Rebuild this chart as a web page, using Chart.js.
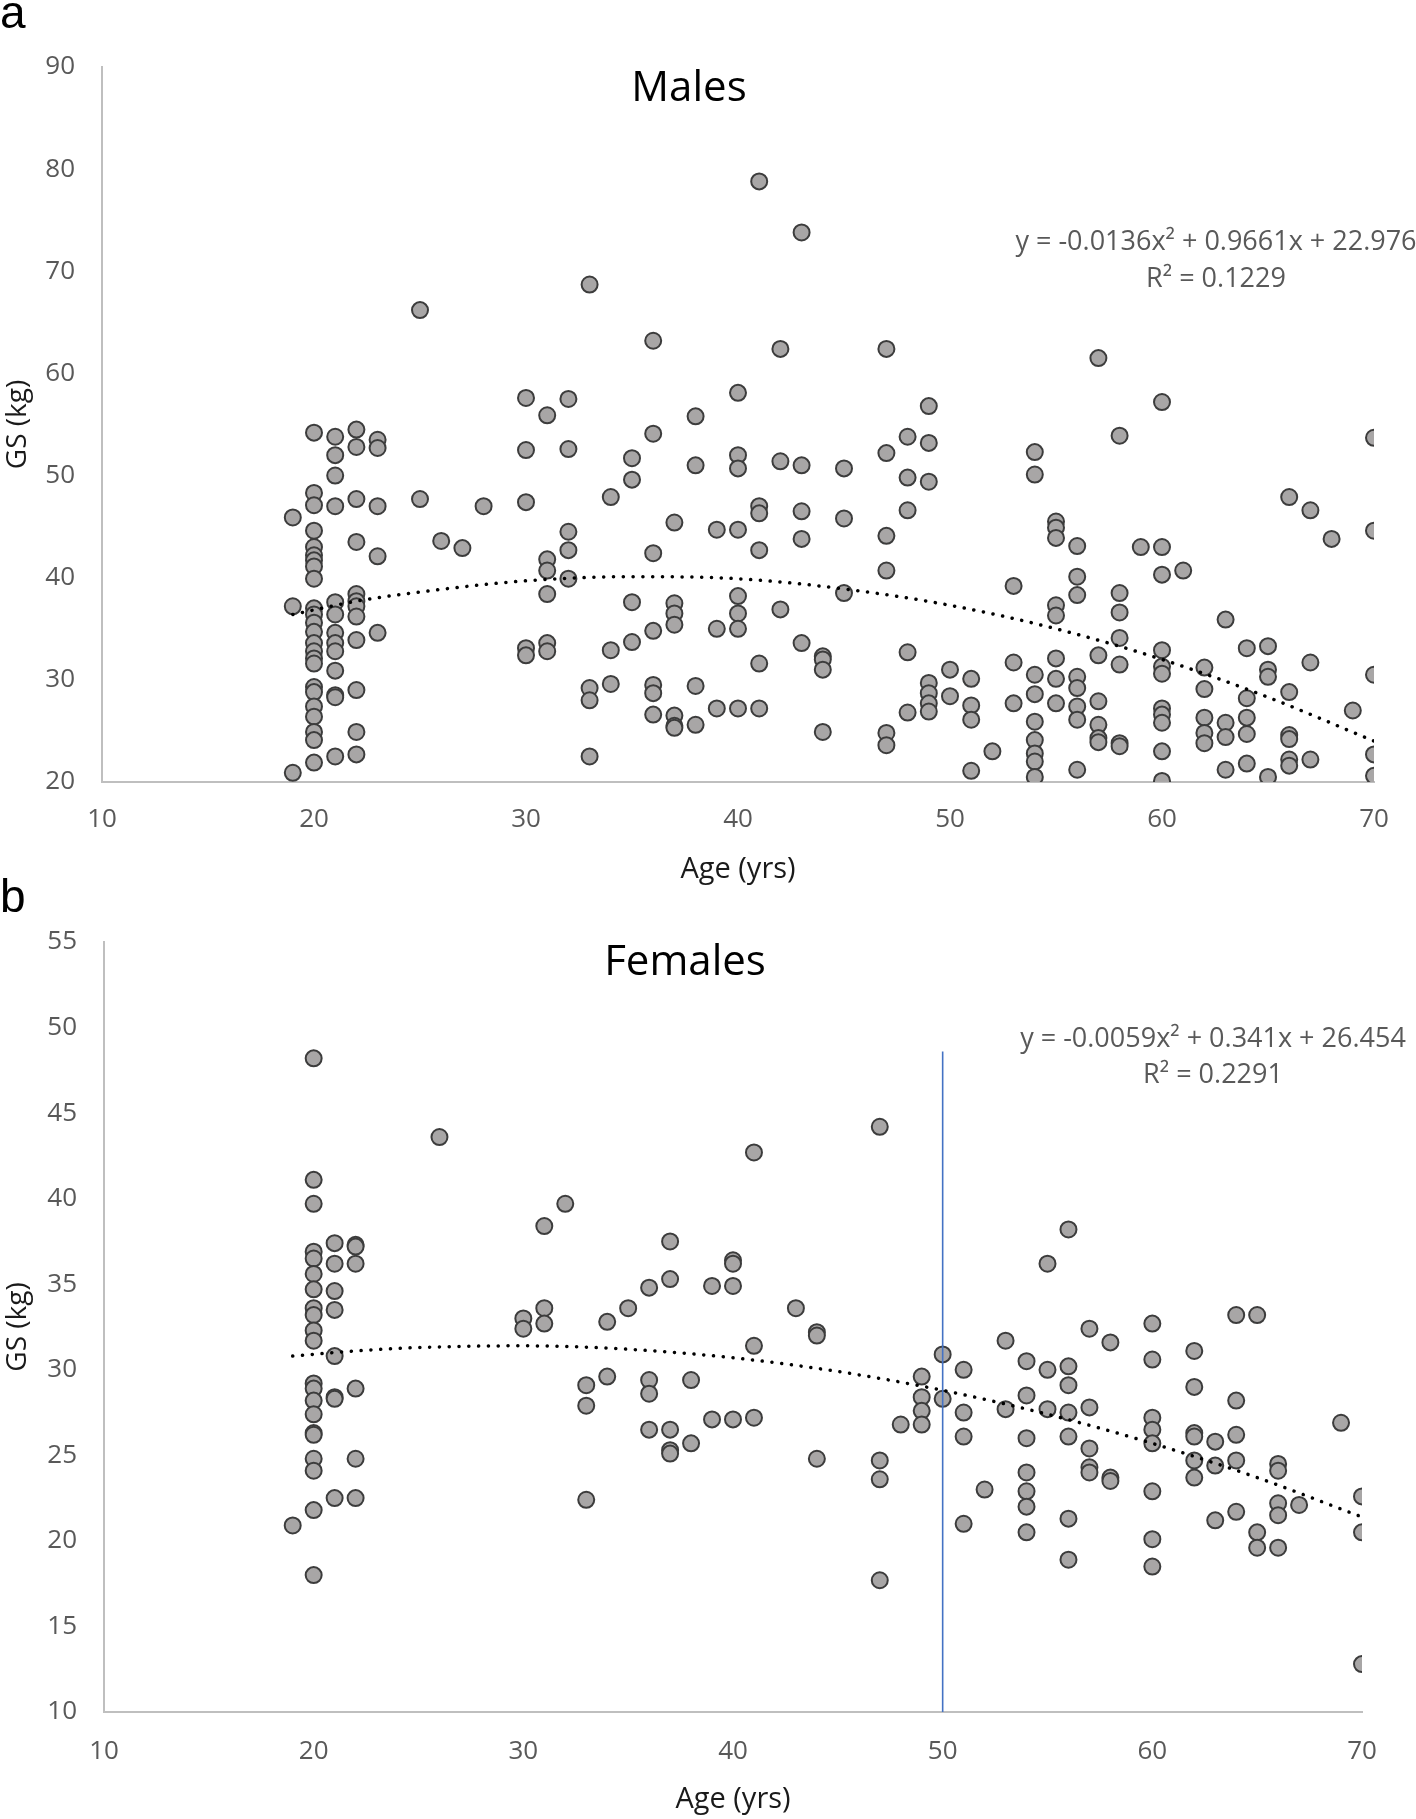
<!DOCTYPE html>
<html><head><meta charset="utf-8">
<script src="https://cdn.jsdelivr.net/npm/chart.js@4.4.1/dist/chart.umd.min.js"></script>
<style>
html,body{margin:0;padding:0;background:#fff;}
body{width:1416px;height:1819px;overflow:hidden;position:relative;}
canvas{position:absolute;left:0;}
.pl{position:absolute;left:0;font-family:"Liberation Sans",Arial,sans-serif;font-size:46px;line-height:46px;color:#000;}
</style></head><body>
<canvas id="c1" width="1416" height="890" style="top:0"></canvas>
<canvas id="c2" width="1416" height="939" style="top:880px"></canvas>
<div class="pl" style="top:-11px">a</div>
<div class="pl" style="top:873px">b</div>
<script>
// ---------- DATA ----------
const xTicks = [10, 20, 30, 40, 50, 60, 70];

const maleAges = [19,20,21,22,23,25,26,27,28,30,31,32,33,34,35,36,37,38,39,40,41,42,43,44,45,47,48,49,50,51,52,53,54,55,56,57,58,59,60,61,62,63,64,65,66,67,68,69,70];
const maleGS = [
 [45.9,37.2,20.9],
 [54.2,48.3,47.1,44.6,43.0,42.2,41.7,41.1,39.9,37.0,36.4,35.6,34.7,33.6,32.8,32.1,31.6,29.3,28.8,27.4,26.4,24.9,24.1,21.9],
 [53.8,52.0,50.0,47.0,37.6,36.4,34.6,33.6,32.8,30.9,28.5,28.3,22.5],
 [54.5,52.8,47.7,43.5,38.4,37.7,37.2,36.2,33.9,29.0,24.9,22.7],
 [53.5,52.7,47.0,42.1,34.6],
 [66.2,47.7],
 [43.6],
 [42.9],
 [47.0],
 [57.6,52.5,47.4,33.1,32.4],
 [55.9,41.8,40.7,38.4,33.6,32.8],
 [57.5,52.6,44.5,42.7,39.9],
 [68.7,29.2,28.0,22.5],
 [47.9,32.9,29.6],
 [51.7,49.6,37.6,33.7],
 [63.2,54.1,42.4,34.8,29.5,28.7,26.6],
 [45.4,37.5,36.5,35.4,26.5,25.5,25.3],
 [55.8,51.0,29.4,25.6],
 [44.7,35.0,27.2],
 [58.1,52.0,50.7,44.7,38.2,36.5,35.0,27.2],
 [78.8,47.0,46.3,42.7,31.6,27.2],
 [62.4,51.4,36.9],
 [73.8,51.0,46.5,43.8,33.6],
 [32.3,32.0,31.0,24.9],
 [50.7,45.8,38.5],
 [62.4,52.2,44.1,40.7,24.8,23.6],
 [53.8,49.8,46.6,32.7,26.8],
 [56.8,53.2,49.4,29.7,28.7,27.7,26.9],
 [31.0,28.4],
 [30.1,27.5,26.1,21.1],
 [23.0],
 [39.2,31.7,27.7],
 [52.3,50.1,30.5,28.6,25.9,24.1,22.8,22.0,20.5],
 [45.5,44.9,43.9,37.3,36.3,32.1,30.1,27.7],
 [43.1,40.1,38.3,30.3,29.2,27.4,26.1,21.2],
 [61.5,32.4,27.9,25.6,24.3,23.9],
 [53.9,38.5,36.6,34.1,31.5,23.8,23.5],
 [43.0],
 [57.2,43.0,40.3,32.9,31.3,30.6,27.2,26.6,25.8,23.0,20.1],
 [40.7],
 [31.2,29.1,26.3,24.8,23.8],
 [35.9,25.8,24.4,21.2],
 [33.1,28.2,26.3,24.7,21.8],
 [33.3,31.0,30.3,20.5],
 [47.9,28.8,24.6,24.2,22.2,21.6],
 [46.6,31.7,22.2],
 [43.8],
 [27.0],
 [53.7,44.6,30.5,22.7,20.6]
];

const femaleAges = [19,20,21,22,26,30,31,32,33,34,35,36,37,38,39,40,41,43,44,47,48,49,50,51,52,53,54,55,56,57,58,60,62,63,64,65,66,67,69,70];
const femaleGS = [
 [20.9],
 [48.2,41.1,39.7,36.9,36.5,35.6,34.7,33.6,33.2,32.3,31.7,29.2,28.9,28.2,27.4,26.3,26.2,24.8,24.1,21.8,18.0],
 [37.4,36.2,34.6,33.5,30.8,28.4,28.3,22.5],
 [37.3,37.2,36.2,28.9,24.8,22.5],
 [43.6],
 [33.0,32.4],
 [38.4,33.6,32.7],
 [39.7],
 [29.1,27.9,22.4],
 [32.8,29.6],
 [33.6],
 [34.8,29.4,28.6,26.5],
 [37.5,35.3,26.5,25.3,25.1],
 [29.4,25.7],
 [34.9,27.1],
 [36.4,36.2,34.9,27.1],
 [42.7,31.4,27.2],
 [33.6],
 [32.2,32.0,24.8],
 [44.2,24.7,23.6,17.7],
 [26.8],
 [29.6,28.4,27.6,26.8],
 [30.9,28.3],
 [30.0,27.5,26.1,21.0],
 [23.0],
 [31.7,27.7],
 [30.5,28.5,26.0,24.0,22.9,22.0,20.5],
 [36.2,30.0,27.7],
 [38.2,30.2,29.1,27.5,26.1,21.3,18.9],
 [32.4,27.8,25.4,24.3,24.0],
 [31.6,23.7,23.5],
 [32.7,30.6,27.2,26.5,25.7,22.9,20.1,18.5],
 [31.1,29.0,26.3,26.1,24.7,23.7],
 [25.8,24.4,21.2],
 [33.2,28.2,26.2,24.7,21.7],
 [33.2,20.5,19.6],
 [24.5,24.1,22.2,21.5,19.6],
 [22.1],
 [26.9],
 [22.6,20.5,12.8]
];

// dotted polynomial trend lines
const trendAges   = [19, 22, 25, 30, 35, 40, 45, 50, 55, 60, 65, 70];
const maleTrend   = [36.4, 37.7, 38.6, 39.7, 40.1, 39.9, 38.9, 37.3, 35.0, 32.0, 28.3, 24.0];
const femaleTrend = [30.8, 31.1, 31.3, 31.4, 31.2, 30.7, 29.9, 28.8, 27.4, 25.7, 23.7, 21.4];

// vertical blue marker line in panel b
const markerAge = [50, 50];
const markerGS  = [10, 48.6];

const maleEquation   = ['y = -0.0136x² + 0.9661x + 22.976', 'R² = 0.1229'];
const femaleEquation = ['y = -0.0059x² + 0.341x + 26.454', 'R² = 0.2291'];

// ---------- HELPERS ----------
function flatten(ages, vals) {
  const pts = [];
  ages.forEach((a, i) => vals[i].forEach(v => pts.push({x: a, y: v})));
  return pts;
}
function zip(xs, ys) { return xs.map((x, i) => ({x: x, y: ys[i]})); }

const FONT = '"Open Sans", "DejaVu Sans", sans-serif';

const textPlugin = {
  id: 'panelText',
  afterDatasetsDraw(chart, args, opts) {
    const ctx = chart.ctx;
    ctx.save();
    (opts.items || []).forEach(it => {
      ctx.font = it.font;
      ctx.fillStyle = it.color;
      ctx.textAlign = 'center';
      ctx.textBaseline = 'alphabetic';
      ctx.fillText(it.text, it.x, it.y);
    });
    ctx.restore();
  }
};

function makeChart(id, cfg) {
  return new Chart(document.getElementById(id), {
    type: 'scatter',
    data: {
      datasets: [
        {
          type: 'line',
          data: zip(markerAge, markerGS),
          borderColor: '#4472C4',
          borderWidth: 1.6,
          pointRadius: 0,
          hidden: !cfg.marker,
          order: 0
        },
        {
          type: 'line',
          data: zip(trendAges, cfg.trend),
          borderColor: '#000000',
          borderWidth: 3.5,
          borderDash: [0.1, 9.7],
          borderCapStyle: 'round',
          cubicInterpolationMode: 'monotone',
          pointRadius: 0,
          fill: false,
          order: 1
        },
        {
          data: flatten(cfg.ages, cfg.values),
          backgroundColor: '#A8A6A6',
          borderColor: '#3C3C3C',
          borderWidth: 2,
          pointRadius: 8,
          order: 2
        }
      ]
    },
    options: {
      responsive: false,
      animation: false,
      devicePixelRatio: 1,
      layout: {padding: {top: cfg.padTop, right: cfg.padRight, left: 0, bottom: 0}},
      plugins: {
        legend: {display: false},
        tooltip: {enabled: false},
        panelText: {items: cfg.texts}
      },
      scales: {
        x: {
          type: 'linear',
          min: 10, max: 70,
          afterBuildTicks: s => { s.ticks = xTicks.map(v => ({value: v})); },
          grid: {display: false, drawTicks: false},
          border: {display: true, color: '#BFBFBF', width: 2},
          ticks: {color: '#595959', font: {family: FONT, size: 26}, padding: cfg.xTickPad, maxRotation: 0},
          title: {display: true, text: 'Age (yrs)', color: '#1a1a1a', font: {family: FONT, size: 29}, padding: {top: 0, bottom: cfg.xTitlePad}},
          afterFit: s => { s.height = cfg.xHeight; }
        },
        y: {
          type: 'linear',
          min: cfg.yMin, max: cfg.yMax,
          ticks: {stepSize: cfg.yStep, color: '#595959', font: {family: FONT, size: 26}, padding: 27},
          grid: {display: false, drawTicks: false},
          border: {display: true, color: '#BFBFBF', width: 2},
          title: {display: true, text: 'GS (kg)', color: '#1a1a1a', font: {family: FONT, size: 28}, padding: {top: 1, bottom: 0}},
          afterFit: s => { s.width = cfg.yWidth; }
        }
      }
    },
    plugins: [textPlugin]
  });
}

makeChart('c1', {
  ages: maleAges, values: maleGS, trend: maleTrend, marker: false,
  yMin: 20, yMax: 90, yStep: 10,
  padTop: 67, padRight: 42, xHeight: 108, yWidth: 102, xTickPad: 22, xTitlePad: 3,
  texts: [
    {text: 'Males', x: 689, y: 101, font: '42px ' + FONT, color: '#000'},
    {text: maleEquation[0], x: 1216, y: 250, font: '27px ' + FONT, color: '#595959'},
    {text: maleEquation[1], x: 1216, y: 287, font: '27px ' + FONT, color: '#595959'}
  ]
});

makeChart('c2', {
  ages: femaleAges, values: femaleGS, trend: femaleTrend, marker: true,
  yMin: 10, yMax: 55, yStep: 5,
  padTop: 62, padRight: 54, xHeight: 107, yWidth: 104, xTickPad: 24, xTitlePad: 2,
  texts: [
    {text: 'Females', x: 685, y: 95, font: '42px ' + FONT, color: '#000'},
    {text: femaleEquation[0], x: 1213, y: 167, font: '27px ' + FONT, color: '#595959'},
    {text: femaleEquation[1], x: 1213, y: 203, font: '27px ' + FONT, color: '#595959'}
  ]
});
</script>
</body></html>
